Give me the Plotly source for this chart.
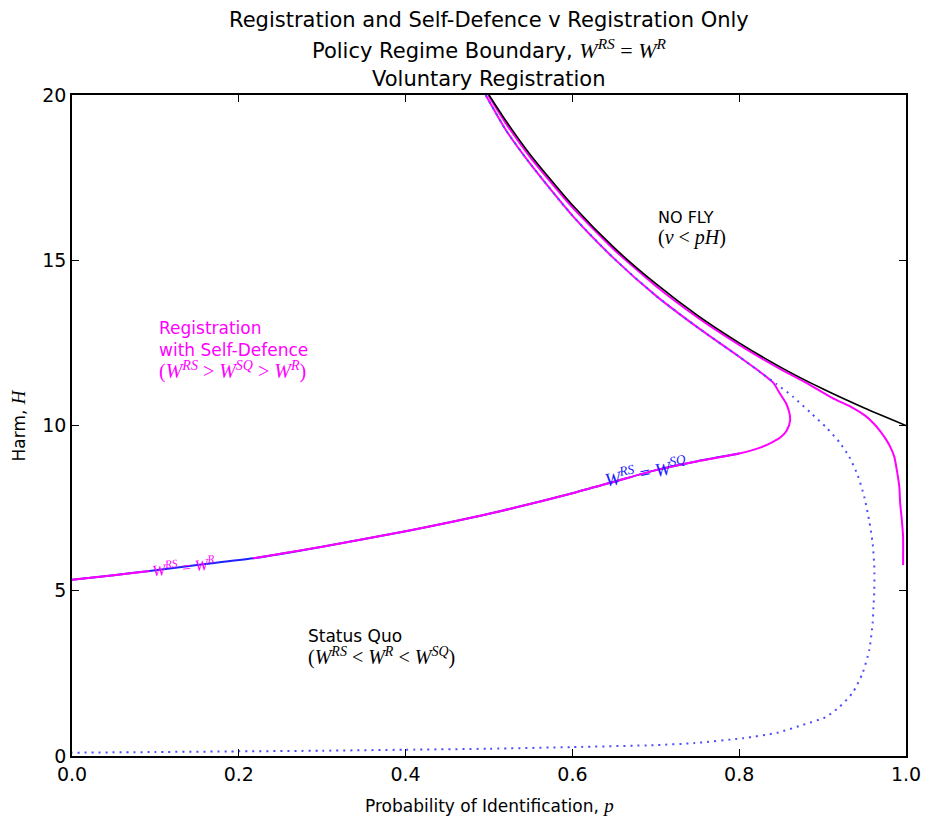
import plotly.graph_objects as go

# ---------------- data ----------------
x_ticks = [0.0, 0.2, 0.4, 0.6, 0.8, 1.0]
x_tick_labels = ["0.0", "0.2", "0.4", "0.6", "0.8", "1.0"]
y_ticks = [0, 5, 10, 15, 20]
y_tick_labels = ["0", "5", "10", "15", "20"]

# NO FLY boundary (v = pH)
p_nofly = [0.5, 0.52, 0.55, 0.6, 0.65, 0.7, 0.75, 0.8, 0.85, 0.9, 0.95, 1.0]
H_nofly = [20.0, 19.23, 18.18, 16.67, 15.38, 14.29, 13.33, 12.5, 11.76, 11.11, 10.53, 10.0]

# W^RS = W^R, outer branch (hugging the NO FLY boundary)
p_rsr_outer = [0.499, 0.52, 0.55, 0.6, 0.65, 0.7, 0.75, 0.8, 0.85, 0.88, 0.912, 0.935,
               0.951, 0.961, 0.969, 0.976, 0.981, 0.986, 0.989, 0.992, 0.993, 0.995, 0.9965, 0.9965]
H_rsr_outer = [20.0, 19.15, 18.1, 16.6, 15.32, 14.22, 13.27, 12.44, 11.7, 11.3, 10.83, 10.55,
               10.3, 10.07, 9.83, 9.58, 9.36, 9.05, 8.65, 8.14, 7.65, 7.14, 6.63, 5.78]

# W^RS = W^R, lower branch with nose (gap where the contour label sits)
p_rsr_inner = [0.0, 0.05, 0.093, None, 0.217, 0.3, 0.4, 0.5, 0.6, 0.65, 0.7, 0.75, 0.8,
               0.825, 0.84, 0.85, 0.857, 0.861, 0.860, 0.856, 0.848, 0.841, 0.825, 0.8,
               0.75, 0.7, 0.65, 0.6, 0.55, 0.52, 0.496]
H_rsr_inner = [5.33, 5.47, 5.6, None, 5.98, 6.33, 6.8, 7.33, 7.95, 8.3, 8.65, 8.92, 9.15,
               9.33, 9.5, 9.65, 9.85, 10.15, 10.4, 10.68, 11.0, 11.29, 11.62, 12.08,
               12.97, 13.93, 15.05, 16.35, 17.9, 18.95, 20.0]

# W^RS = W^SQ (solid blue, under the lower branch)
p_rssq = [0.0, 0.05, 0.093, 0.15, 0.217, 0.3, 0.4, 0.5, 0.6, 0.65, 0.7, 0.75, 0.8]
H_rssq = [5.33, 5.47, 5.6, 5.78, 5.98, 6.33, 6.8, 7.33, 7.95, 8.3, 8.65, 8.92, 9.15]

# dotted blue boundary
p_dotted = [0.496, 0.52, 0.55, 0.6, 0.65, 0.7, 0.75, 0.8, 0.825, 0.845, 0.865, 0.885,
            0.904, 0.92, 0.932, 0.942, 0.95, 0.956, 0.96, 0.962, 0.962, 0.961, 0.96,
            0.956, 0.948, 0.936, 0.92, 0.904, 0.876, 0.845, 0.805, 0.746, 0.7, 0.6,
            0.5, 0.4, 0.3, 0.2, 0.1, 0.0]
H_dotted = [20.0, 18.95, 17.9, 16.35, 15.05, 13.93, 12.97, 12.08, 11.62, 11.25, 10.86, 10.4,
            9.95, 9.5, 9.05, 8.5, 7.84, 7.1, 6.44, 5.7, 5.02, 4.5, 4.02,
            3.21, 2.51, 1.91, 1.48, 1.18, 0.94, 0.70, 0.54, 0.39, 0.33, 0.27,
            0.22, 0.19, 0.16, 0.14, 0.12, 0.10]

MAGENTA = "#ff00ff"
BLUE = "#2020ff"
DOT_BLUE = "#4d4dff"
SERIF = "Liberation Serif"


def m(s, size):
    return "<span style='font-family:%s;font-size:%dpx'>%s</span>" % (SERIF, size, s)


def w(sup):
    return "<i>W</i><sup><i>%s</i></sup>" % sup


fig = go.Figure()
fig.add_trace(go.Scatter(x=p_rssq, y=H_rssq, mode="lines",
                         line=dict(color=BLUE, width=2, shape="spline", smoothing=0.6),
                         hoverinfo="skip"))
fig.add_trace(go.Scatter(x=p_rsr_inner, y=H_rsr_inner, mode="lines", connectgaps=False,
                         line=dict(color=MAGENTA, width=2, shape="spline", smoothing=0.6),
                         hoverinfo="skip"))
fig.add_trace(go.Scatter(x=p_rsr_outer, y=H_rsr_outer, mode="lines",
                         line=dict(color=MAGENTA, width=2, shape="spline", smoothing=0.5),
                         hoverinfo="skip"))
fig.add_trace(go.Scatter(x=p_nofly, y=H_nofly, mode="lines",
                         line=dict(color="black", width=1.6, shape="spline", smoothing=0.6),
                         hoverinfo="skip"))
fig.add_trace(go.Scatter(x=p_dotted, y=H_dotted, mode="lines",
                         line=dict(color=DOT_BLUE, width=2, dash="2px,5px",
                                   shape="spline", smoothing=0.6),
                         hoverinfo="skip"))

annotations = [
    dict(text="Registration and Self-Defence v Registration Only", xref="paper", yref="paper",
         x=0.5, y=1, yshift=75, showarrow=False, yanchor="middle", font=dict(size=21)),
    dict(text="Policy Regime Boundary, " + m(w("RS") + " = <i>W</i><sup><i>R</i></sup>", 22),
         xref="paper", yref="paper", x=0.5, y=1, yshift=46, showarrow=False,
         yanchor="middle", font=dict(size=21)),
    dict(text="Voluntary Registration", xref="paper", yref="paper",
         x=0.5, y=1, yshift=16, showarrow=False, yanchor="middle", font=dict(size=21)),
    dict(text="Probability of Identification, " + m("<i>p</i>", 19), xref="paper", yref="paper",
         x=0.5, y=0, yshift=-49, showarrow=False, yanchor="middle", font=dict(size=17)),
    dict(text="Harm, " + m("<i>H</i>", 19), xref="paper", yref="paper", x=0, y=0.5,
         xshift=-54, textangle=-90, showarrow=False, xanchor="center", font=dict(size=17)),
    dict(text="Registration<br>with Self-Defence<br>" +
              m("(" + w("RS") + " &gt; " + w("SQ") + " &gt; " + w("R") + ")", 20),
         x=0.102, y=13.3, xanchor="left", yanchor="top", align="left", showarrow=False,
         font=dict(size=17, color=MAGENTA)),
    dict(text="NO FLY<br>" + m("(<i>v</i> &lt; <i>pH</i>)", 20),
         x=0.70, y=16.65, xanchor="left", yanchor="top", align="left", showarrow=False,
         font=dict(size=16, color="black")),
    dict(text="Status Quo<br>" +
              m("(" + w("RS") + " &lt; " + w("R") + " &lt; " + w("SQ") + ")", 20),
         x=0.28, y=4.0, xanchor="left", yanchor="top", align="left", showarrow=False,
         font=dict(size=17, color="black")),
    dict(text=m(w("RS") + " = " + w("R"), 16), x=0.134, y=5.74,
         textangle=-7, showarrow=False, font=dict(size=16, color=MAGENTA)),
    dict(text=m(w("RS") + " = " + w("SQ"), 19), x=0.688, y=8.62,
         textangle=-11, showarrow=False, font=dict(size=19, color=BLUE)),
]

axis_common = dict(showline=True, linecolor="black", linewidth=1.5, mirror="allticks",
                   ticks="inside", ticklen=7, tickwidth=1.2, tickcolor="black",
                   showgrid=False, zeroline=False, tickfont=dict(size=19, color="black"))

fig.update_layout(
    width=933, height=820,
    margin=dict(l=72, r=19, t=95, b=64),
    paper_bgcolor="white", plot_bgcolor="white",
    showlegend=False,
    font=dict(family="DejaVu Sans", color="black"),
    xaxis=dict(range=[0, 1], tickvals=x_ticks, ticktext=x_tick_labels, **axis_common),
    yaxis=dict(range=[0, 20], tickvals=y_ticks, ticktext=y_tick_labels, **axis_common),
    annotations=annotations,
)

fig.write_html("out.html")
